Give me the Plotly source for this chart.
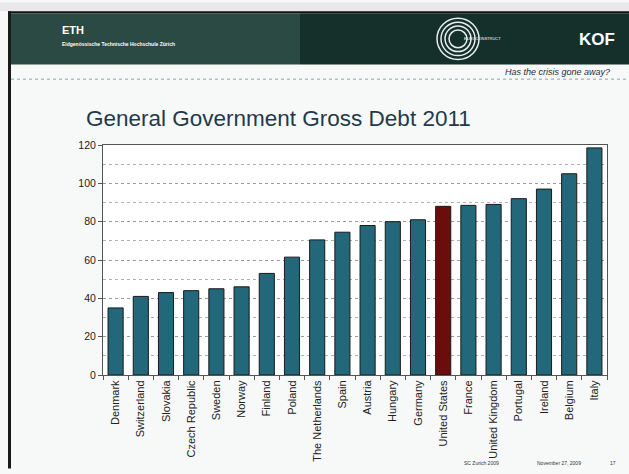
import plotly.graph_objects as go

countries = ["Denmark", "Switzerland", "Slovakia", "Czech Republic", "Sweden", "Norway",
             "Finland", "Poland", "The Netherlands", "Spain", "Austria", "Hungary",
             "Germany", "United States", "France", "United Kingdom", "Portugal",
             "Ireland", "Belgium", "Italy"]
debt = [35, 41, 43, 44, 45, 46, 53, 61.5, 70.5, 74.5, 78, 80, 81, 88, 88.5, 89, 92, 97, 105, 118.5]
highlight = "United States"

bar_colors = ["#6b0d0d" if c == highlight else "#22687a" for c in countries]

fig = go.Figure()
fig.add_trace(go.Bar(
    x=countries, y=debt,
    marker=dict(color=bar_colors, line=dict(color="#1a1a1a", width=1)),
    width=0.6,
))

W, H = 629, 474
fig.update_layout(
    width=W, height=H,
    margin=dict(l=103, r=22, t=145, b=95),
    paper_bgcolor="#f7f9f9",
    plot_bgcolor="#ffffff",
    showlegend=False,
    font=dict(family="Liberation Sans, Arial", color="#222222"),
)
fig.update_xaxes(
    type="category",
    tickangle=-90,
    tickfont=dict(size=11, color="#222"),
    ticks="outside", tickson="boundaries", ticklen=4, tickcolor="#555",
    showline=True, linecolor="#555", linewidth=1, mirror=True,
    showgrid=False,
)
fig.update_yaxes(
    range=[0, 120], dtick=20,
    tickfont=dict(size=10.5, color="#222"),
    ticks="outside", ticklen=4, tickcolor="#555",
    showline=True, linecolor="#555", linewidth=1, mirror=True,
    showgrid=True, gridcolor="#9a9a9a", griddash="dot", gridwidth=1,
    minor=dict(dtick=10, showgrid=True, gridcolor="#b0b0b0", griddash="dot", gridwidth=1),
    zeroline=False,
)

def px_rect(x0, y0, x1, y1, color, line=None):
    return dict(type="rect", xref="paper", yref="paper",
                x0=(x0-103)/504, x1=(x1-103)/504,
                y0=(379-y1)/234, y1=(379-y0)/234,
                fillcolor=color, line=line or dict(width=0), layer="below")

shapes = []
shapes.append(px_rect(0, 0, W, 9, "#e8e8ea"))
shapes.append(px_rect(8, 9, W, 11, "#111111"))
shapes.append(px_rect(10, 11, 300, 63, "#2c4a44"))
shapes.append(px_rect(300, 11, W, 63, "#15302a"))
shapes.append(px_rect(8, 9, 11, H, "#1a1a1a"))
# thin rule under subtitle
shapes.append(dict(type="line", xref="paper", yref="paper",
                   x0=(11-103)/504, x1=(W-103)/504, y0=(379-78)/234, y1=(379-78)/234,
                   line=dict(color="#8aa0a6", width=1, dash="dot")))
# concentric-circle logo
cx, cy = 458, 37
for r in [21, 17, 13, 9]:
    shapes.append(dict(type="circle", xref="paper", yref="paper",
                       x0=(cx-r-103)/504, x1=(cx+r-103)/504,
                       y0=(379-(cy+r))/234, y1=(379-(cy-r))/234,
                       line=dict(color="#e8eeee", width=1.5)))
fig.update_layout(shapes=shapes)

def ann(text, x, y, size, color, xanchor="left", yanchor="middle"):
    fig.add_annotation(text=text, xref="paper", yref="paper",
                       x=(x-103)/504, y=(379-y)/234, showarrow=False,
                       xanchor=xanchor, yanchor=yanchor,
                       font=dict(size=size, color=color, family="Liberation Sans, Arial"))

ann("<b>ETH</b>", 60, 28, 11, "#ffffff")
ann("<b>Eidgenössische Technische Hochschule Zürich</b>", 60, 42, 5, "#ffffff")
ann("EUROCONSTRUCT", 462, 37, 4, "#ffffff")
ann("<b>KOF</b>", 597, 38, 17, "#ffffff", xanchor="center")
ann("<i>Has the crisis gone away?</i>", 612, 71, 9, "#1e2a40", xanchor="right")
ann("General Government Gross Debt 2011", 84, 118, 22.5, "#1f3a4c")
ann("SC Zurich 2009", 462, 469, 5, "#333333")
ann("November 27, 2009", 535, 469, 5, "#333333")
ann("17", 608, 469, 5, "#333333")

fig.write_html("out.html")
